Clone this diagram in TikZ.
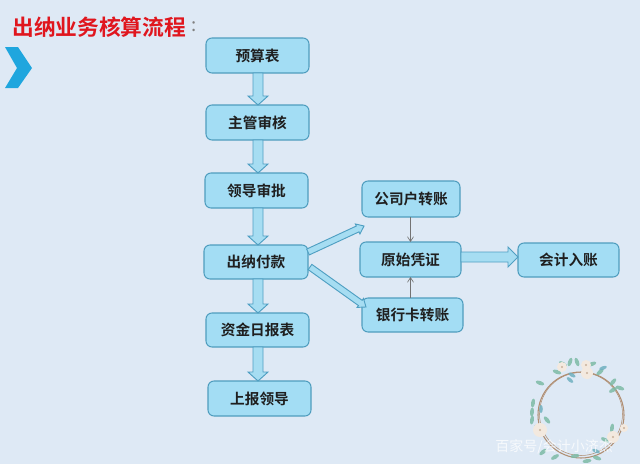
\documentclass[tikz,border=0pt]{standalone}
\usepackage{fontspec}
\setmainfont{Noto Sans CJK SC}[BoldFont={Noto Sans CJK SC Bold}]
\usetikzlibrary{calc,arrows.meta}
\definecolor{bgc}{HTML}{DEE9F5}
\definecolor{boxf}{HTML}{A3DDF4}
\definecolor{boxe}{HTML}{4F9DBE}
\definecolor{arrf}{HTML}{A6DDF2}
\definecolor{arre}{HTML}{4F9FC2}
\definecolor{chev}{HTML}{1FA6DE}
\definecolor{titlec}{HTML}{E0161E}
\definecolor{twig}{HTML}{B08E72}
\definecolor{leaf}{HTML}{7DBBA6}
\definecolor{leafb}{HTML}{6FB0C0}
\definecolor{petal}{HTML}{F3E9DF}
\tikzset{
  x=0.75pt,y=-0.75pt,
  flowbox/.style={draw=boxe,fill=boxf,line width=0.8pt,rounded corners=4.5pt,inner sep=0pt,
    font=\fontsize{11}{13}\selectfont\bfseries,text=black!88},
  blockarrow/.style={draw=arre,fill=arrf,line width=0.7pt,line join=miter},
  thinarrow/.style={draw=black!55,line width=0.5pt,-{Straight Barb[length=3.5pt,width=4.5pt]}},
  leafshape/.style={fill=leaf,draw=none,opacity=.85},
  leafblue/.style={fill=leafb,draw=none,opacity=.85},
  flower/.style={fill=petal,draw=none},
}
% \blockarrow{from}{to}{half shaft}{half head}{head length}
\newcommand\blockarrow[5]{%
  \draw[blockarrow] let \p1=($(#2)-(#1)$), \n1={atan2(\y1,\x1)}, \n2={veclen(\x1,\y1)} in
    [shift={(#1)},rotate=\n1,x=1pt,y=1pt]
    (0,#3*.75) -- ({\n2/1pt-#5*.75},#3*.75) -- ({\n2/1pt-#5*.75},#4*.75) -- ({\n2/1pt},0)
    -- ({\n2/1pt-#5*.75},-#4*.75) -- ({\n2/1pt-#5*.75},-#3*.75) -- (0,-#3*.75) -- cycle;}
\newcommand\flowb[6]{\node[flowbox,minimum width={(#4-#3)*0.75pt},minimum height={(#6-#5)*0.75pt}] (#1) at ({(#3+#4)/2},{(#5+#6)/2}) {#2};}
\begin{document}
\begin{tikzpicture}
\useasboundingbox (0,0) rectangle (640,464);
\fill[bgc] (0,0) rectangle (640,464);
% title
\node[anchor=west,inner sep=0pt,text=titlec,font=\fontsize{16.3}{18}\selectfont\bfseries] (title) at (12,27) {出纳业务核算流程};
\node[anchor=west,inner sep=0pt,text=black!50,font=\fontsize{14}{16}\selectfont] (colon) at (191,27) {:};
% chevron
\fill[chev] (5,47) -- (18,47) -- (32,68) -- (18,88) -- (5,88) -- (17,68) -- cycle;
% boxes
\flowb{ys}{预算表}{206}{309}{38}{73}
\flowb{zg}{主管审核}{206}{309}{105}{140}
\flowb{ld}{领导审批}{205}{308}{173}{208}
\flowb{cn}{出纳付款}{204}{308}{245}{279}
\flowb{zj}{资金日报表}{206}{309}{313}{347}
\flowb{sb}{上报领导}{208}{311}{381}{416}
\flowb{gs}{公司户转账}{362}{460}{181}{217}
\flowb{ys2}{原始凭证}{360}{461}{242}{277}
\flowb{yh}{银行卡转账}{362}{463}{298}{332}
\flowb{kj}{会计入账}{518}{619}{243}{277}
% block arrows
\coordinate (a1s) at (258,73); \coordinate (a1e) at (258,105);
\coordinate (a2s) at (258,140); \coordinate (a2e) at (258,173);
\coordinate (a3s) at (258,208); \coordinate (a3e) at (258,245);
\coordinate (a4s) at (258,279); \coordinate (a4e) at (258,313);
\coordinate (a5s) at (258,347); \coordinate (a5e) at (258,381);
\coordinate (a6s) at (461,257); \coordinate (a6e) at (518,257);
\coordinate (d1s) at (308,252); \coordinate (d1e) at (364,226);
\coordinate (d2s) at (310,267); \coordinate (d2e) at (366,307);
\blockarrow{a1s}{a1e}{5}{10}{9}
\blockarrow{a2s}{a2e}{5}{10}{9}
\blockarrow{a3s}{a3e}{5}{10}{9}
\blockarrow{a4s}{a4e}{5}{10}{9}
\blockarrow{a5s}{a5e}{5}{10}{9}
\blockarrow{a6s}{a6e}{5}{10}{10}
\blockarrow{d1s}{d1e}{3.2}{5.5}{7}
\blockarrow{d2s}{d2e}{3.2}{5.5}{7}
% thin arrows
\coordinate (t1s) at (410.5,217); \coordinate (t1e) at (410.5,242);
\coordinate (t2s) at (410.5,298); \coordinate (t2e) at (410.5,277);
\draw[thinarrow] (t1s) -- (t1e);
\draw[thinarrow] (t2s) -- (t2e);
% wreath
\draw[twig,line width=0.8pt] (581,415) circle [radius=43];
\draw[twig,line width=0.4pt] (581,414) circle [radius=41.5];
\foreach \px/\py/\a in {563/364/-30,570/362/70,577/362/-70,557/372/-20,592/364/20,
   613/382/50,620/388/-20,613/390/30,600/372/40,540/383/-20,533/403/80,532/412/85,532/420/80,547/420/-50,538/428/-40,
   612/428/80,605/440/-30,543/452/40,555/457/30,587/461/10,597/458/-20,575/456/10}
  {\fill[leafshape,rotate around={\a:(\px,\py)}] (\px,\py) ellipse [x radius=4.5,y radius=2];}
\foreach \px/\py/\a in {603/368/20,541/409/90,570/380/-40,572/375/-30,596/451/-20}
  {\fill[leafblue,rotate around={\a:(\px,\py)}] (\px,\py) ellipse [x radius=4,y radius=1.8];}
\foreach \px/\py/\r in {587/373/6,586/365/5,562/367/5,540/430/7,613/437/6,624/428/4}
  {\fill[flower] (\px,\py) circle [radius=\r];
   \fill[twig!70] (\px,\py) circle [radius=1.2];}
% watermark
\node[anchor=west,inner sep=0pt,text=white,opacity=.75,font=\fontsize{10.5}{12}\selectfont] (wm) at (495,447) {百家号/会计小济杰};
\end{tikzpicture}
\end{document}
